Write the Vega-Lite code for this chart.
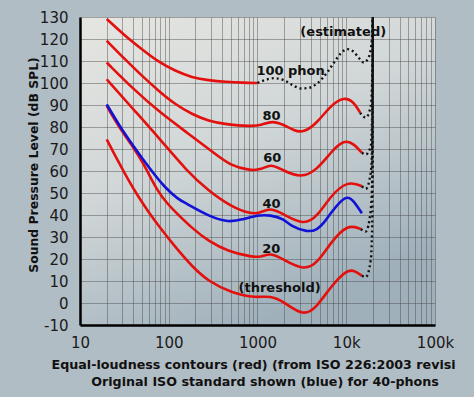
{
  "$schema": "https://vega.github.io/schema/vega-lite/v6.json",
  "width": 355,
  "height": 308,
  "autosize": {"type": "none"},
  "padding": {"left": 80, "top": 17, "right": 39, "bottom": 72},
  "background": "#b1bdc5",
  "config": {
    "view": {
      "stroke": null,
      "fill": {"gradient": "linear", "x1": 0, "y1": 0, "x2": 0.5, "y2": 1,
        "stops": [{"offset": 0, "color": "#e6e6e1"}, {"offset": 0.5, "color": "#d0d6d7"}, {"offset": 1, "color": "#9fb0bb"}]}
    }
  },
  "resolve": {"axis": {"x": "independent"}},
  "datasets": {
    "red": [
      {"c": "100", "f": 20, "db": 129.1}, {"c": "100", "f": 32, "db": 121.5}, {"c": "100", "f": 50, "db": 115.3}, {"c": "100", "f": 77, "db": 109.5}, {"c": "100", "f": 118, "db": 105.5}, {"c": "100", "f": 183, "db": 102.5}, {"c": "100", "f": 282, "db": 101.2}, {"c": "100", "f": 435, "db": 100.5}, {"c": "100", "f": 700, "db": 100.1}, {"c": "100", "f": 1000, "db": 100},
      {"c": "80", "f": 20, "db": 119.2}, {"c": "80", "f": 32, "db": 110.8}, {"c": "80", "f": 50, "db": 103.2}, {"c": "80", "f": 77, "db": 96.4}, {"c": "80", "f": 118, "db": 90.3}, {"c": "80", "f": 183, "db": 85.8}, {"c": "80", "f": 282, "db": 82.7}, {"c": "80", "f": 435, "db": 81.2}, {"c": "80", "f": 833, "db": 80.3}, {"c": "80", "f": 1100, "db": 80.7}, {"c": "80", "f": 1450, "db": 82.9}, {"c": "80", "f": 1982, "db": 81}, {"c": "80", "f": 2570, "db": 78.4}, {"c": "80", "f": 3300, "db": 77.3}, {"c": "80", "f": 4730, "db": 82}, {"c": "80", "f": 6680, "db": 89.8}, {"c": "80", "f": 9440, "db": 93.8}, {"c": "80", "f": 12250, "db": 91.3}, {"c": "80", "f": 14320, "db": 86.5},
      {"c": "60", "f": 20, "db": 109.3}, {"c": "60", "f": 40, "db": 97.2}, {"c": "60", "f": 80, "db": 86.5}, {"c": "60", "f": 161, "db": 77.4}, {"c": "60", "f": 321, "db": 68.3}, {"c": "60", "f": 495, "db": 62.4}, {"c": "60", "f": 833, "db": 60.2}, {"c": "60", "f": 1100, "db": 60.6}, {"c": "60", "f": 1420, "db": 63.3}, {"c": "60", "f": 1850, "db": 60.7}, {"c": "60", "f": 3100, "db": 56.6}, {"c": "60", "f": 4730, "db": 60.7}, {"c": "60", "f": 6680, "db": 68.5}, {"c": "60", "f": 9440, "db": 74.4}, {"c": "60", "f": 12250, "db": 72.3}, {"c": "60", "f": 15000, "db": 68.3},
      {"c": "40", "f": 20, "db": 101.7}, {"c": "40", "f": 40, "db": 88}, {"c": "40", "f": 80, "db": 74.4}, {"c": "40", "f": 160, "db": 60}, {"c": "40", "f": 280, "db": 51}, {"c": "40", "f": 518, "db": 43.5}, {"c": "40", "f": 830, "db": 40.6}, {"c": "40", "f": 1050, "db": 40.7}, {"c": "40", "f": 1400, "db": 43.5}, {"c": "40", "f": 1982, "db": 40.2}, {"c": "40", "f": 3335, "db": 35.3}, {"c": "40", "f": 4730, "db": 39.4}, {"c": "40", "f": 6680, "db": 48.7}, {"c": "40", "f": 10300, "db": 55.6}, {"c": "40", "f": 15000, "db": 53.1},
      {"c": "20", "f": 20, "db": 89.6}, {"c": "20", "f": 27, "db": 80.5}, {"c": "20", "f": 38, "db": 72}, {"c": "20", "f": 52, "db": 63.5}, {"c": "20", "f": 75, "db": 50.5}, {"c": "20", "f": 100, "db": 44.5}, {"c": "20", "f": 118, "db": 41.5}, {"c": "20", "f": 183, "db": 34}, {"c": "20", "f": 282, "db": 28}, {"c": "20", "f": 474, "db": 23.4}, {"c": "20", "f": 833, "db": 21.1}, {"c": "20", "f": 1081, "db": 20.7}, {"c": "20", "f": 1402, "db": 23}, {"c": "20", "f": 1982, "db": 19.6}, {"c": "20", "f": 3335, "db": 14.8}, {"c": "20", "f": 4730, "db": 18.1}, {"c": "20", "f": 6680, "db": 27.5}, {"c": "20", "f": 10300, "db": 35.9}, {"c": "20", "f": 14590, "db": 33.6},
      {"c": "0", "f": 20, "db": 74.4}, {"c": "0", "f": 26, "db": 65.5}, {"c": "0", "f": 35, "db": 56}, {"c": "0", "f": 45, "db": 48.5}, {"c": "0", "f": 60, "db": 41}, {"c": "0", "f": 77, "db": 35}, {"c": "0", "f": 118, "db": 25.5}, {"c": "0", "f": 183, "db": 16.6}, {"c": "0", "f": 282, "db": 9.7}, {"c": "0", "f": 518, "db": 4.5}, {"c": "0", "f": 948, "db": 2.3}, {"c": "0", "f": 1400, "db": 3.4}, {"c": "0", "f": 2000, "db": 0.5}, {"c": "0", "f": 3300, "db": -6.2}, {"c": "0", "f": 4700, "db": -1.7}, {"c": "0", "f": 6680, "db": 7.5}, {"c": "0", "f": 10300, "db": 15.4}, {"c": "0", "f": 12500, "db": 14.6}, {"c": "0", "f": 15000, "db": 12.4}
    ],
    "blue": [
      {"f": 20, "db": 90.3}, {"f": 28, "db": 80.4}, {"f": 40, "db": 71.3}, {"f": 62, "db": 60.7}, {"f": 90, "db": 52.5}, {"f": 129, "db": 47}, {"f": 154, "db": 45.5}, {"f": 282, "db": 39.4}, {"f": 474, "db": 36.6}, {"f": 671, "db": 37.9}, {"f": 1000, "db": 40}, {"f": 1400, "db": 40}, {"f": 1982, "db": 38.2}, {"f": 2360, "db": 35}, {"f": 3650, "db": 32.1}, {"f": 4730, "db": 33.3}, {"f": 5600, "db": 36.4}, {"f": 6680, "db": 40.9}, {"f": 10000, "db": 49.6}, {"f": 12250, "db": 46.2}, {"f": 15000, "db": 40.8}
    ],
    "dots": [
      {"c": "100", "f": 1000, "db": 100}, {"c": "100", "f": 1250, "db": 101.5}, {"c": "100", "f": 1530, "db": 102.2}, {"c": "100", "f": 1980, "db": 101.3}, {"c": "100", "f": 2500, "db": 99}, {"c": "100", "f": 3060, "db": 97.5}, {"c": "100", "f": 3800, "db": 97.8}, {"c": "100", "f": 4700, "db": 99.8}, {"c": "100", "f": 6100, "db": 104.8}, {"c": "100", "f": 7280, "db": 109.3}, {"c": "100", "f": 8700, "db": 113.5}, {"c": "100", "f": 10300, "db": 115.4}, {"c": "100", "f": 12000, "db": 114.3}, {"c": "100", "f": 13500, "db": 112}, {"c": "100", "f": 15800, "db": 109.3}, {"c": "100", "f": 17500, "db": 111}, {"c": "100", "f": 18900, "db": 115.4}, {"c": "100", "f": 19700, "db": 124}, {"c": "100", "f": 19900, "db": 130},
      {"c": "80", "f": 14320, "db": 86.5}, {"c": "80", "f": 16600, "db": 84.3}, {"c": "80", "f": 18900, "db": 89.5}, {"c": "80", "f": 19700, "db": 105}, {"c": "80", "f": 19900, "db": 130},
      {"c": "60", "f": 15000, "db": 68.3}, {"c": "60", "f": 16600, "db": 67.5}, {"c": "60", "f": 18900, "db": 71.3}, {"c": "60", "f": 19700, "db": 90}, {"c": "60", "f": 19900, "db": 130},
      {"c": "40", "f": 15000, "db": 53.1}, {"c": "40", "f": 16600, "db": 51.9}, {"c": "40", "f": 18900, "db": 59.2}, {"c": "40", "f": 19700, "db": 75}, {"c": "40", "f": 19900, "db": 130},
      {"c": "20", "f": 14590, "db": 33.6}, {"c": "20", "f": 16600, "db": 32.5}, {"c": "20", "f": 18900, "db": 42.4}, {"c": "20", "f": 19700, "db": 60}, {"c": "20", "f": 19900, "db": 130},
      {"c": "0", "f": 15000, "db": 12.4}, {"c": "0", "f": 16600, "db": 11.8}, {"c": "0", "f": 18900, "db": 19.6}, {"c": "0", "f": 19700, "db": 40}, {"c": "0", "f": 19900, "db": 130}
    ],
    "labels": [
      {"t": "100 phon", "f": 2360, "db": 105.4},
      {"t": "80", "f": 1440, "db": 85},
      {"t": "60", "f": 1470, "db": 65.7},
      {"t": "40", "f": 1440, "db": 45},
      {"t": "20", "f": 1430, "db": 24.5},
      {"t": "(threshold)", "f": 1775, "db": 6.7},
      {"t": "(estimated)", "f": 9250, "db": 123.3}
    ]
  },
  "encoding": {
    "y": {
      "field": "db", "type": "quantitative",
      "scale": {"domain": [-10, 130], "nice": false, "zero": false},
      "axis": {
        "values": [-10,0,10,20,30,40,50,60,70,80,90,100,110,120,130],
        "labelExpr": "'' + datum.value",
        "grid": true, "ticks": false, "tickSize": 0,
        "labelPadding": 12, "labelFontSize": 15, "labelFont": "DejaVu Sans", "labelColor": "#1a1a1a",
        "labelOverlap": false, "labelFlush": false,
        "domainColor": "#000", "domainWidth": 2.5,
        "gridColor": "#4a4a4a", "gridOpacity": 0.45, "gridWidth": 1,
        "title": "Sound Pressure Level (dB SPL)",
        "titleFont": "DejaVu Sans", "titleFontWeight": "bold", "titleFontSize": 12.4, "titleColor": "#111",
        "titleX": -47, "titleY": 147.5, "titleAngle": -90, "titleAlign": "center", "titleBaseline": "middle"
      }
    }
  },
  "layer": [
    {
      "data": {"name": "red"},
      "mark": {"type": "line", "color": "#e4100e", "strokeWidth": 2.6, "interpolate": "basis"},
      "encoding": {
        "x": {
          "field": "f", "type": "quantitative",
          "scale": {"type": "log", "domain": [10, 100000]},
          "axis": {
            "orient": "bottom",
            "values": [10,20,30,40,50,60,70,80,90,100,200,300,400,500,600,700,800,900,1000,2000,3000,4000,5000,6000,7000,8000,9000,10000,20000,30000,40000,50000,60000,70000,80000,90000,100000],
            "labelExpr": "(datum.value == 10000 || datum.value == 100000) ? format(datum.value/1000, 'd') + 'k' : (datum.value == 10 || datum.value == 100 || datum.value == 1000) ? format(datum.value, 'd') : ''",
            "grid": true, "ticks": false, "tickSize": 0,
            "labelPadding": 10, "labelFontSize": 15, "labelFont": "DejaVu Sans", "labelColor": "#1a1a1a",
            "labelOverlap": false, "labelFlush": false,
            "domainColor": "#000", "domainWidth": 2.5,
            "gridColor": "#4a4a4a", "gridOpacity": 0.45, "gridWidth": 1,
            "title": "Equal-loudness contours (red) (from ISO 226:2003 revisi",
            "titleFont": "DejaVu Sans", "titleFontWeight": "bold", "titleFontSize": 12.7, "titleColor": "#111",
            "titleX": -29, "titleY": 43.5, "titleAlign": "left", "titleBaseline": "alphabetic", "titleLimit": 600,
            "encode": {
              "labels": {"update": {"dx": {"signal": "datum.value >= 10000 ? -9 : datum.value >= 100 ? -3 : 0"}}}
            }
          }
        },
        "detail": {"field": "c", "type": "nominal"}
      }
    },
    {
      "data": {"name": "blue"},
      "mark": {"type": "line", "color": "#1212d6", "strokeWidth": 2.6, "interpolate": "basis"},
      "encoding": {
        "x": {"field": "f", "type": "quantitative", "scale": {"type": "log", "domain": [10, 100000]}, "axis": null}
      }
    },
    {
      "data": {"name": "dots"},
      "mark": {"type": "line", "color": "#111", "strokeWidth": 2.4, "strokeDash": [2, 3], "interpolate": "monotone"},
      "encoding": {
        "x": {"field": "f", "type": "quantitative", "scale": {"type": "log", "domain": [10, 100000]}, "axis": null},
        "detail": {"field": "c", "type": "nominal"}
      }
    },
    {
      "data": {"name": "labels"},
      "mark": {"type": "text", "font": "DejaVu Sans", "fontWeight": "bold", "fontSize": 13, "color": "#111", "align": "center", "baseline": "middle"},
      "encoding": {
        "x": {
          "field": "f", "type": "quantitative", "scale": {"type": "log", "domain": [10, 100000]},
          "axis": {
            "orient": "bottom", "domain": false, "grid": false, "labels": false, "ticks": false,
            "title": "Original ISO standard shown (blue) for 40-phons",
            "titleFont": "DejaVu Sans", "titleFontWeight": "bold", "titleFontSize": 12.7, "titleColor": "#111",
            "titleX": 10.7, "titleY": 60.2, "titleAlign": "left", "titleBaseline": "alphabetic"
          }
        },
        "text": {"field": "t", "type": "nominal"}
      }
    }
  ]
}
